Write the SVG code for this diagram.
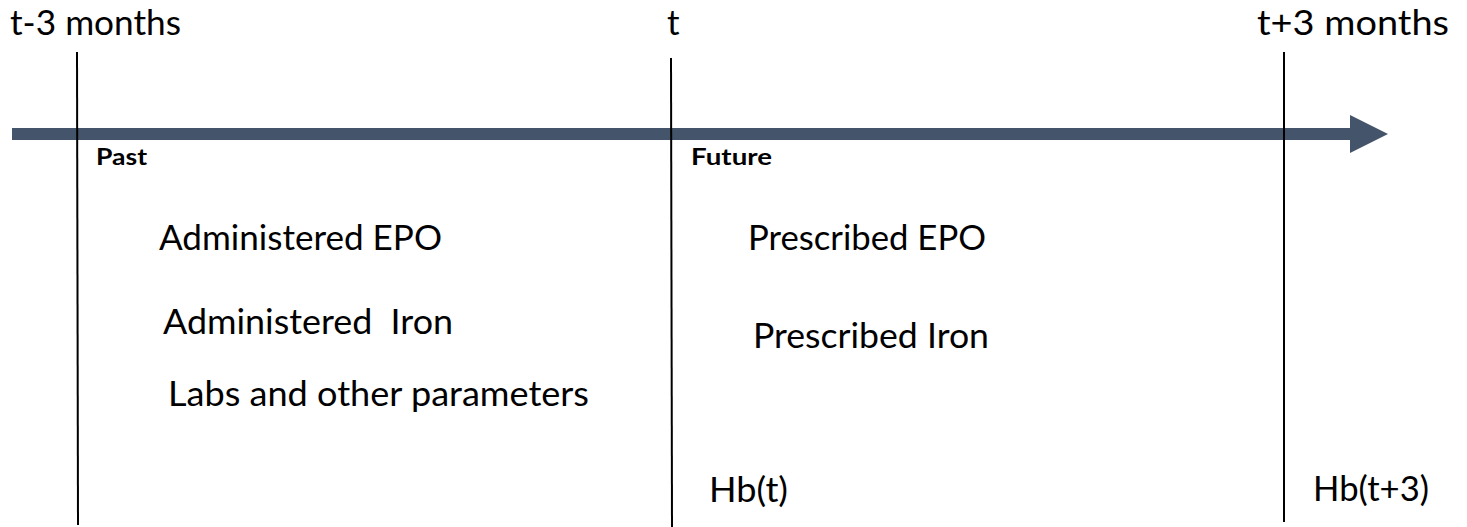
<svg xmlns="http://www.w3.org/2000/svg" width="1467" height="527" viewBox="0 0 1467 527">
<style>
.lbl{font-family:Lato,"Liberation Sans",sans-serif;font-size:34px;fill:#000}
.big{font-family:Lato,"Liberation Sans",sans-serif;font-size:35px;fill:#000}
.b{font-family:Lato,"Liberation Sans",sans-serif;font-size:23px;font-weight:bold;fill:#000}
.tick{stroke:#000;stroke-width:2}
</style>
<defs>
<marker id="ah" markerUnits="userSpaceOnUse" markerWidth="40" markerHeight="40" refX="0" refY="19" orient="auto">
<path d="M0,0 L38,19 L0,38 Z" fill="#44546A"/>
</marker>
</defs>
<rect width="1467" height="527" fill="#fff"/>
<g id="connectors">
<line x1="12" y1="134" x2="1350" y2="134" stroke="#44546A" stroke-width="12" marker-end="url(#ah)"/>
</g>
<g id="tick-start"><line class="tick" x1="77" y1="52" x2="78" y2="525"/><text class="big" x="10" y="35" textLength="171" lengthAdjust="spacingAndGlyphs">t-3 months</text></g>
<g id="tick-t"><line class="tick" x1="671" y1="58" x2="672" y2="527"/><text class="big" x="667" y="35">t</text></g>
<g id="tick-end"><line class="tick" x1="1284" y1="52" x2="1284" y2="522"/><text class="big" x="1257" y="35" textLength="192" lengthAdjust="spacingAndGlyphs">t+3 months</text></g>
<g id="past"><text class="b" x="96" y="165" textLength="51" lengthAdjust="spacingAndGlyphs">Past</text></g>
<g id="future"><text class="b" x="691" y="165" textLength="81" lengthAdjust="spacingAndGlyphs">Future</text></g>
<g id="adm-epo"><text class="lbl" x="159" y="250" textLength="283" lengthAdjust="spacingAndGlyphs">Administered EPO</text></g>
<g id="adm-iron"><text class="lbl" x="163" y="334" xml:space="preserve" textLength="290" lengthAdjust="spacingAndGlyphs">Administered  Iron</text></g>
<g id="labs"><text class="lbl" x="168" y="406" textLength="421" lengthAdjust="spacingAndGlyphs">Labs and other parameters</text></g>
<g id="pre-epo"><text class="lbl" x="748" y="250" textLength="238" lengthAdjust="spacingAndGlyphs">Prescribed EPO</text></g>
<g id="pre-iron"><text class="lbl" x="753" y="348" textLength="236" lengthAdjust="spacingAndGlyphs">Prescribed Iron</text></g>
<g id="hbt"><text class="lbl" x="709" y="502" textLength="79" lengthAdjust="spacingAndGlyphs">Hb(t)</text></g>
<g id="hbt3"><text class="lbl" x="1313" y="501" textLength="116" lengthAdjust="spacingAndGlyphs">Hb(t+3)</text></g>
</svg>
